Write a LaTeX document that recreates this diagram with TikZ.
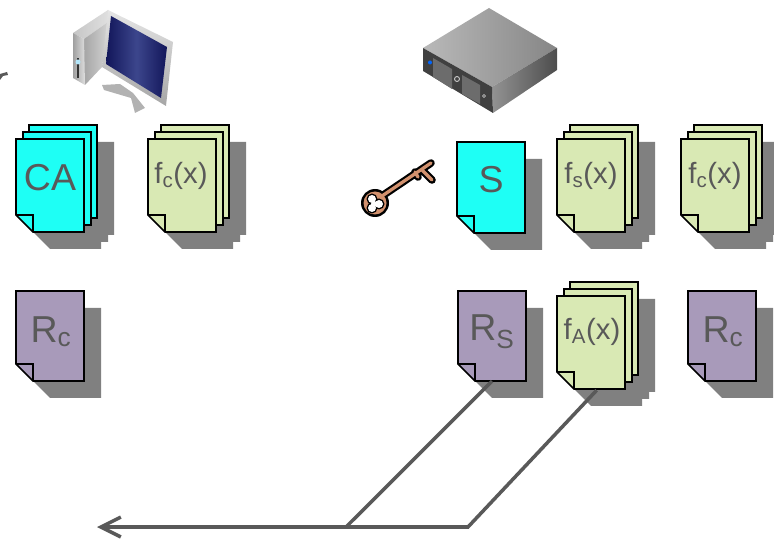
\documentclass[tikz,border=0pt]{standalone}
\usepackage{fontspec}
\setmainfont{Liberation Sans}
\usetikzlibrary{arrows.meta}

\definecolor{sheetcyan}{RGB}{30,255,245}
\definecolor{sheetgreen}{RGB}{217,233,180}
\definecolor{sheetpurple}{RGB}{168,154,186}
\definecolor{sheetshadow}{RGB}{128,128,128}
\definecolor{inkgray}{RGB}{89,89,89}
\definecolor{keybrown}{RGB}{210,145,110}
\definecolor{screendark}{RGB}{18,22,90}
\definecolor{screenlight}{RGB}{60,70,140}

\tikzset{
	sheetline/.style={line width=1.4pt, draw=black, line join=miter},
	sheetlabel/.style={inner sep=0pt, minimum width=2.04cm, minimum height=#1*0.03cm, text=inkgray},
	sheetlabel/.default=98,
	link/.style={line width=3pt, draw=inkgray},
}

% outline of one sheet with its turned corner: x, y, height
\newcommand{\sheetpath}[3]{(#1,#2) -- ++(68,0) -- ++(0,#3) -- ++(-51,0) -- ++(-17,-17) -- cycle}

% one sheet: x, y, height, colour
\newcommand{\onesheet}[4]{
	\fill[sheetshadow]	\sheetpath{#1+17}{#2+17}{#3};
	\filldraw[sheetline, fill=#4]	\sheetpath{#1}{#2}{#3};
	\draw[sheetline]	(#1,#2+#3-17) -- ++(17,0) -- ++(0,17);
}

% stack of three sheets: x, y, colour
\newcommand{\sheetstack}[3]{
	\foreach \dx/\dy in {13/-14,7/-7,0/0}
		\fill[sheetshadow]	\sheetpath{#1+\dx+17}{#2+\dy+17}{93};
	\foreach \dx/\dy in {13/-14,7/-7,0/0}{
		\filldraw[sheetline, fill=#3]	\sheetpath{#1+\dx}{#2+\dy}{93};
		\draw[sheetline]	(#1+\dx,#2+\dy+76) -- ++(17,0) -- ++(0,17);
	}
}

\begin{document}
\begin{tikzpicture}[x=0.03cm, y=-0.03cm]

	\useasboundingbox (0,0) rectangle (774,539);

	% stray mark at the left edge
	\fill[inkgray]	(0,74) -- (7,72) -- (8,75) -- (3,76) -- (0,80) -- cycle;

	% computer
	\shade[left color=gray!45, right color=gray!25]	(73,33) -- (108,10) -- (108,22) -- (84,39) -- cycle;
	\shade[left color=gray!70, right color=gray!35]	(84,39) -- (108,22) -- (102,67) -- (85,85) -- cycle;
	\shade[left color=gray!75, right color=gray!25]	(73,33) -- (84,39) -- (85,85) -- (73,78) -- cycle;
	\fill[black!80]	(77,58) rectangle (79,78);
	\fill[cyan!30!white]	(78,62) circle (2.5);
	\fill[gray!60]	(102,85) -- (120,84) -- (133,93) -- (145,108) -- (135,113) -- (131,98) -- (104,90) -- cycle;
	\shade[top color=gray!20, bottom color=gray!70]	(108,10) -- (173,42) -- (166,106) -- (102,67) -- cycle;
	\shade[shading angle=45, left color=screendark, right color=screendark, middle color=screenlight]	(111,16) -- (167,47) -- (161,98) -- (106,64) -- cycle;

	% server
	\shade[shading angle=60, left color=gray!55, right color=gray!95]	(489,8) -- (557,48) -- (492,87) -- (423,48) -- cycle;
	\shade[left color=gray!85, right color=black!70]	(492,87) -- (557,48) -- (557,70) -- (493,113) -- cycle;
	\fill[black!75]	(423,48) -- (492,87) -- (493,113) -- (423,71) -- cycle;
	\fill[gray!85!black]	(433,58) -- (452,69) -- (452,89) -- (433,77) -- cycle;
	\fill[gray!85!black]	(462,75) -- (480,85) -- (480,104) -- (462,94) -- cycle;
	\fill[blue!60!cyan]	(430,62.5) circle (2);
	\draw[gray!30, line width=.7pt]	(457,79) circle (2.5);
	\draw[gray!30, line width=.5pt]	(484,96) circle (1.5);

	% key
	\draw[line width=6.5pt, black, line cap=round]	(382,196) -- (431,163) (415,172) -- (418,177) (422,170) -- (432,180);
	\fill[black]	(375,203) circle (14);
	\draw[line width=2.8pt, keybrown, line cap=round]	(382,196) -- (431,163) (415,172) -- (418,177) (422,170) -- (432,180);
	\fill[keybrown]	(375,203) circle (11.5);
	\fill[black]	(372,199) circle (5.5) (379,204) circle (5.5) (372,208) circle (5.5);
	\fill[white]	(372,199) circle (4) (379,204) circle (4) (372,208) circle (4) (374,204) circle (3);

	% sheets
	\sheetstack{16}{139}{sheetcyan}
	\sheetstack{148}{139}{sheetgreen}
	\onesheet{457}{142}{91}{sheetcyan}
	\sheetstack{557}{139}{sheetgreen}
	\sheetstack{681}{139}{sheetgreen}
	\onesheet{16}{291}{90}{sheetpurple}
	\onesheet{458}{291}{90}{sheetpurple}
	\sheetstack{557}{296}{sheetgreen}
	\onesheet{688}{291}{90}{sheetpurple}

	% labels
	\node 	(ca)	at	(50,178) 	[sheetlabel]{\fontsize{32}{32}\selectfont CA};
	\node 	(fc)	at	(181,176) 	[sheetlabel]{\fontsize{25}{25}\selectfont f$_{\mathrm{c}}$(x)};
	\node 	(s)	at	(491,180) 	[sheetlabel]{\fontsize{32}{32}\selectfont S};
	\node 	(fs)	at	(591,176) 	[sheetlabel]{\fontsize{25}{25}\selectfont f$_{\mathrm{s}}$(x)};
	\node 	(fcs)	at	(715,176) 	[sheetlabel]{\fontsize{25}{25}\selectfont f$_{\mathrm{c}}$(x)};
	\node 	(rc)	at	(51,332) 	[sheetlabel]{\fontsize{32}{32}\selectfont R$_{\mathrm{c}}$};
	\node 	(rs)	at	(492,332) 	[sheetlabel]{\fontsize{32}{32}\selectfont R$_{\mathrm{S}}$};
	\node 	(fa)	at	(592,332) 	[sheetlabel=116]{\fontsize{25}{25}\selectfont f$_{\mathrm{A}}$(x)};
	\node 	(rcs)	at	(723,332) 	[sheetlabel]{\fontsize{32}{32}\selectfont R$_{\mathrm{c}}$};

	\coordinate 	(tipend)	at	(97,527);
	\coordinate 	(fork)	at	(346,527);
	\coordinate 	(elbow)	at	(468,527);

	\draw[link, -{Straight Barb[length=17pt,width=17pt]}]	([xshift=4pt]fa.south) -- (elbow) -- (tipend);
	\draw[link]	(rs.south) -- (fork);

\end{tikzpicture}
\end{document}
